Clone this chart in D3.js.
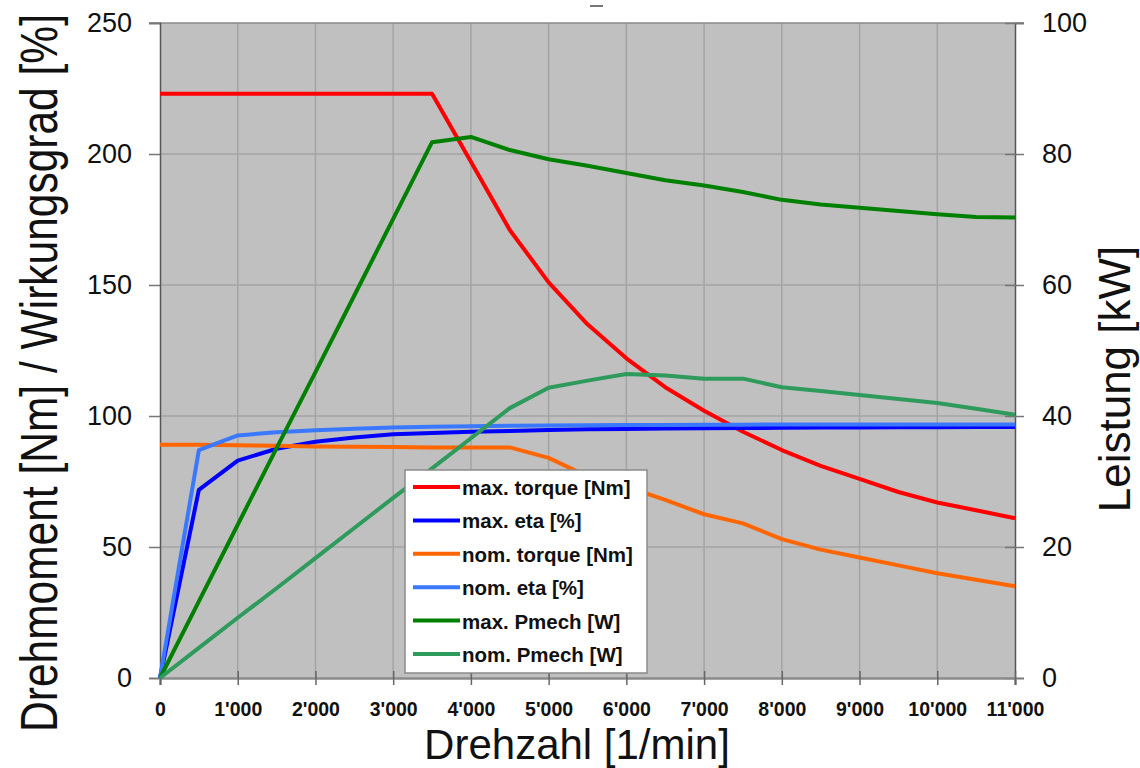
<!DOCTYPE html>
<html>
<head>
<meta charset="utf-8">
<script src="https://cdn.jsdelivr.net/npm/d3@7"></script>
<style>
  body { margin: 0; background: #fff; }
  svg { display: block; font-family: 'Liberation Sans', Arial, sans-serif; }
</style>
</head>
<body>
<svg id="chart" width="1140" height="768"></svg>
<script>
// speed in 1/min
const rpm = [0, 500, 1000, 1500, 2000, 2500, 3000, 3500, 4000, 4500, 5000, 5500,
  6000, 6500, 7000, 7500, 8000, 8500, 9000, 9500, 10000, 10500, 11000];

// left axis series (Nm / %)
const maxTorque = [223, 223, 223, 223, 223, 223, 223, 223, 197, 171, 151, 135,
  122, 111, 102, 94, 87, 81, 76, 71, 67, 64, 61];
const maxEta = [0, 71.8, 83, 87.5, 90.2, 91.8, 93, 93.5, 94, 94.3, 94.7, 94.9,
  95, 95.2, 95.3, 95.4, 95.5, 95.6, 95.6, 95.7, 95.7, 95.8, 95.8];
const nomTorque = [89, 89, 88.8, 88.6, 88.4, 88.3, 88.2, 88, 88, 88, 84, 77,
  73, 68, 62.5, 59, 53, 49, 46, 43, 40, 37.5, 35];
const nomEta = [0, 87, 92.6, 93.8, 94.6, 95.1, 95.6, 95.9, 96.1, 96.3, 96.4, 96.5,
  96.6, 96.6, 96.7, 96.7, 96.8, 96.8, 96.8, 96.8, 96.8, 96.8, 96.8];

// right axis series (kW)
const maxPmech = [0, 11.7, 23.4, 35.1, 46.7, 58.4, 70.1, 81.8, 82.6, 80.6, 79.2, 78.2,
  77.1, 76, 75.2, 74.2, 73, 72.3, 71.8, 71.3, 70.8, 70.4, 70.3];
const nomPmech = [0, 4.6, 9.2, 13.7, 18.3, 22.9, 27.5, 32, 36.6, 41.2, 44.3, 45.4,
  46.4, 46.2, 45.7, 45.7, 44.4, 43.8, 43.2, 42.6, 42, 41.1, 40.2];

const xTicks = [0, 1000, 2000, 3000, 4000, 5000, 6000, 7000, 8000, 9000, 10000, 11000];
const leftTicks = [0, 50, 100, 150, 200, 250];
const rightTicks = [0, 20, 40, 60, 80, 100];

const seriesNames = ['max. torque [Nm]', 'max. eta [%]', 'nom. torque [Nm]',
  'nom. eta [%]', 'max. Pmech [W]', 'nom. Pmech [W]'];
const seriesColors = ['#ff0000', '#0000ff', '#ff6600', '#3a78ff', '#008000', '#2e9a5c'];

const svg = d3.select('#chart');
const m = {left: 160, right: 1015, top: 23, bottom: 678};

const x = d3.scaleLinear().domain([0, 11000]).range([m.left, m.right]);
const yL = d3.scaleLinear().domain([0, 250]).range([m.bottom, m.top]);
const yR = d3.scaleLinear().domain([0, 100]).range([m.bottom, m.top]);

const fmt = d3.formatLocale({decimal: '.', thousands: "'", grouping: [3], currency: ['', '']}).format(',');

// plot background
svg.append('rect')
  .attr('x', m.left).attr('y', m.top)
  .attr('width', m.right - m.left).attr('height', m.bottom - m.top)
  .attr('fill', '#c0c0c0');

// grid
const grid = svg.append('g').attr('stroke', '#a4a4a4').attr('stroke-width', 1.5);
grid.selectAll('.vg').data(xTicks.slice(1, -1)).enter().append('line')
  .attr('x1', d => x(d)).attr('x2', d => x(d))
  .attr('y1', m.top).attr('y2', m.bottom);
grid.selectAll('.hg').data(leftTicks.slice(1, -1)).enter().append('line')
  .attr('x1', m.left).attr('x2', m.right)
  .attr('y1', d => yL(d)).attr('y2', d => yL(d));

// top border
svg.append('line')
  .attr('x1', 149).attr('x2', 1024).attr('y1', m.top).attr('y2', m.top)
  .attr('stroke', '#8a8a8a').attr('stroke-width', 1.5);

// small dash left over above the plot
svg.append('line')
  .attr('x1', 590).attr('x2', 603).attr('y1', 6).attr('y2', 6)
  .attr('stroke', '#777').attr('stroke-width', 2);

// left axis
const gL = svg.append('g').attr('transform', 'translate(' + m.left + ',0)')
  .call(d3.axisLeft(yL).tickValues(leftTicks).tickSize(11).tickPadding(17));
gL.select('.domain').attr('stroke', '#555').attr('stroke-width', 1.5);
gL.selectAll('.tick line').attr('stroke', '#777').attr('stroke-width', 1.5);
gL.selectAll('.tick text').attr('font-size', 27).attr('fill', '#111')
  .attr('font-family', "'Liberation Sans', Arial, sans-serif");

// right axis
const gR = svg.append('g').attr('transform', 'translate(' + m.right + ',0)')
  .call(d3.axisRight(yR).tickValues(rightTicks).tickSize(9).tickPadding(18));
gR.select('.domain').attr('stroke', '#555').attr('stroke-width', 1.5);
gR.selectAll('.tick line').attr('x1', -10).attr('stroke', '#777').attr('stroke-width', 1.5);
gR.selectAll('.tick text').attr('font-size', 27).attr('fill', '#111')
  .attr('font-family', "'Liberation Sans', Arial, sans-serif");

// bottom axis
const gB = svg.append('g').attr('transform', 'translate(0,' + m.bottom + ')')
  .call(d3.axisBottom(x).tickValues(xTicks).tickFormat(fmt).tickSize(7));
gB.select('.domain').attr('stroke', '#8a8a8a').attr('stroke-width', 2.5);
gB.selectAll('.tick line').attr('y1', -7).attr('stroke', '#666').attr('stroke-width', 1.5);
gB.selectAll('.tick text').attr('font-size', 19.5).attr('font-weight', 'bold')
  .attr('fill', '#111').attr('y', 38).attr('dy', 0)
  .attr('font-family', "'Liberation Sans', Arial, sans-serif");

// lines
const series = [
  {v: maxTorque, y: yL},
  {v: maxEta, y: yL},
  {v: nomTorque, y: yL},
  {v: nomEta, y: yL},
  {v: maxPmech, y: yR},
  {v: nomPmech, y: yR}
];
series.forEach((s, i) => {
  const line = d3.line()
    .x((d, j) => x(rpm[j]))
    .y(d => s.y(d));
  svg.append('path')
    .datum(s.v)
    .attr('d', line)
    .attr('fill', 'none')
    .attr('stroke', seriesColors[i])
    .attr('stroke-width', 4)
    .attr('stroke-linejoin', 'round');
});

// legend
const legend = svg.append('g').attr('transform', 'translate(405,470)');
legend.append('rect')
  .attr('x', 0).attr('y', 0).attr('width', 242).attr('height', 203)
  .attr('fill', '#fff').attr('stroke', '#8a8a8a').attr('stroke-width', 1.5);
seriesNames.forEach((name, i) => {
  const yy = 17 + i * 33.4;
  legend.append('line')
    .attr('x1', 8).attr('x2', 55).attr('y1', yy).attr('y2', yy)
    .attr('stroke', seriesColors[i]).attr('stroke-width', 4);
  legend.append('text')
    .attr('x', 57).attr('y', yy + 8)
    .attr('font-size', 20.5).attr('font-weight', 'bold').attr('fill', '#111')
    .text(name);
});

// axis titles (glyphs a bit taller than wide, like the original)
svg.append('text')
  .attr('transform', 'translate(57,373) rotate(-90) scale(1,1.2)')
  .attr('text-anchor', 'middle')
  .attr('font-size', 42.5)
  .attr('fill', '#111')
  .text('Drehmoment [Nm] / Wirkungsgrad [%]');

svg.append('text')
  .attr('transform', 'translate(1130,379) rotate(-90)')
  .attr('text-anchor', 'middle')
  .attr('font-size', 44)
  .attr('fill', '#111')
  .text('Leistung [kW]');

svg.append('text')
  .attr('x', 577).attr('y', 759)
  .attr('text-anchor', 'middle')
  .attr('font-size', 42)
  .attr('fill', '#111')
  .text('Drehzahl [1/min]');
</script>
</body>
</html>
